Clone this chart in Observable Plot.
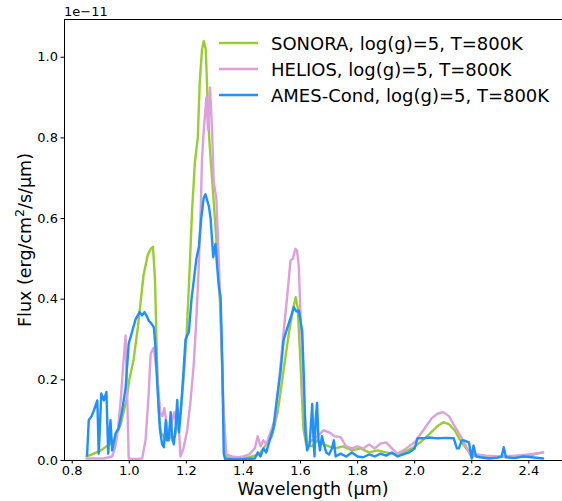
<!DOCTYPE html>
<html>
<head>
<meta charset="utf-8">
<script src="https://cdn.jsdelivr.net/npm/d3@7"></script>
<script src="https://cdn.jsdelivr.net/npm/@observablehq/plot@0.6"></script>
<style>
html,body{margin:0;padding:0;background:#fff;overflow:hidden;}
</style>
</head>
<body>
<div id="chart"></div>
<script>
const seriesNames = ["SONORA, log(g)=5, T=800K", "HELIOS, log(g)=5, T=800K", "AMES-Cond, log(g)=5, T=800K"];
const seriesColors = ["#9acd32", "#dda0dd", "#1e90ff"];
const xTicks = [0.8, 1.0, 1.2, 1.4, 1.6, 1.8, 2.0, 2.2, 2.4];
const yTicks = [0.0, 0.2, 0.4, 0.6, 0.8, 1.0];
const yExponent = "1e\u221211";

// [wavelength (µm), flux (1e-11 erg/cm²/s/µm)]
const sonora = [
[0.85,0.01],[0.87,0.015],[0.90,0.025],[0.93,0.04],[0.95,0.055],[0.97,0.09],[0.99,0.15],[1.00,0.2],[1.015,0.25],[1.03,0.33],
[1.05,0.46],[1.065,0.51],[1.075,0.525],[1.083,0.53],[1.09,0.45],[1.097,0.25],[1.103,0.13],[1.11,0.07],[1.12,0.06],[1.13,0.05],
[1.14,0.07],[1.15,0.05],[1.16,0.06],[1.17,0.09],[1.18,0.12],[1.19,0.2],[1.20,0.3],[1.21,0.45],[1.22,0.62],[1.23,0.74],
[1.24,0.8],[1.247,0.94],[1.255,1.02],[1.261,1.04],[1.268,1.02],[1.274,0.9],[1.28,0.8],[1.29,0.7],[1.30,0.6],[1.31,0.5],
[1.32,0.36],[1.328,0.16],[1.335,0.02],[1.34,0.008],[1.36,0.006],[1.38,0.005],[1.40,0.006],[1.42,0.008],[1.44,0.012],[1.46,0.02],
[1.48,0.04],[1.50,0.06],[1.52,0.12],[1.54,0.22],[1.56,0.32],[1.575,0.38],[1.583,0.405],[1.59,0.38],[1.60,0.24],[1.61,0.08],
[1.62,0.04],[1.64,0.035],[1.66,0.05],[1.68,0.04],[1.70,0.035],[1.72,0.03],[1.75,0.035],[1.78,0.025],[1.81,0.03],[1.84,0.02],
[1.87,0.025],[1.90,0.02],[1.93,0.015],[1.96,0.02],[1.99,0.03],[2.02,0.045],[2.05,0.065],[2.08,0.085],[2.10,0.095],[2.12,0.09],
[2.14,0.075],[2.16,0.05],[2.18,0.03],[2.20,0.015],[2.22,0.01],[2.25,0.008],[2.30,0.008],[2.35,0.01],[2.40,0.012],[2.45,0.02]
];
const helios = [
[0.85,0.005],[0.88,0.005],[0.91,0.005],[0.94,0.01],[0.95,0.03],[0.96,0.075],[0.97,0.15],[0.978,0.23],[0.987,0.31],[0.993,0.15],
[0.998,0.005],[1.01,0.004],[1.03,0.004],[1.045,0.005],[1.057,0.05],[1.068,0.166],[1.075,0.265],[1.086,0.28],[1.098,0.206],[1.109,0.116],
[1.116,0.11],[1.123,0.13],[1.133,0.08],[1.14,0.06],[1.15,0.1],[1.158,0.12],[1.165,0.09],[1.172,0.11],[1.179,0.01],[1.19,0.03],
[1.203,0.075],[1.215,0.15],[1.226,0.24],[1.235,0.35],[1.244,0.49],[1.25,0.62],[1.255,0.75],[1.261,0.82],[1.27,0.9],[1.276,0.82],
[1.283,0.925],[1.29,0.82],[1.296,0.69],[1.305,0.65],[1.314,0.49],[1.322,0.32],[1.331,0.116],[1.34,0.015],[1.36,0.01],[1.38,0.008],
[1.40,0.01],[1.42,0.015],[1.44,0.03],[1.45,0.06],[1.46,0.035],[1.47,0.05],[1.48,0.04],[1.49,0.06],[1.50,0.08],[1.512,0.107],
[1.525,0.2],[1.541,0.32],[1.553,0.405],[1.565,0.496],[1.573,0.5],[1.582,0.525],[1.588,0.52],[1.594,0.48],[1.60,0.364],[1.611,0.157],
[1.623,0.042],[1.64,0.05],[1.66,0.06],[1.68,0.075],[1.70,0.07],[1.72,0.06],[1.74,0.058],[1.76,0.035],[1.78,0.03],[1.80,0.035],
[1.82,0.03],[1.84,0.04],[1.86,0.03],[1.88,0.042],[1.90,0.045],[1.92,0.03],[1.94,0.017],[1.96,0.025],[1.98,0.035],[2.00,0.045],
[2.03,0.075],[2.06,0.105],[2.08,0.116],[2.10,0.12],[2.12,0.11],[2.14,0.085],[2.17,0.05],[2.19,0.02],[2.20,0.008],[2.22,0.015],
[2.25,0.012],[2.30,0.01],[2.35,0.012],[2.40,0.015],[2.45,0.02]
];
const ames = [
[0.852,0.012],[0.858,0.1],[0.868,0.11],[0.876,0.124],[0.888,0.149],[0.893,0.017],[0.902,0.166],[0.911,0.149],[0.92,0.17],[0.926,0.017],
[0.934,0.1],[0.94,0.025],[0.952,0.067],[0.963,0.08],[0.975,0.124],[0.987,0.18],[0.998,0.29],[1.01,0.32],[1.022,0.35],[1.036,0.368],
[1.045,0.36],[1.053,0.368],[1.06,0.36],[1.068,0.347],[1.077,0.34],[1.086,0.33],[1.092,0.28],[1.098,0.19],[1.107,0.08],[1.115,0.04],
[1.121,0.033],[1.128,0.1],[1.133,0.05],[1.138,0.05],[1.145,0.12],[1.15,0.06],[1.156,0.04],[1.162,0.08],[1.168,0.15],[1.174,0.07],
[1.18,0.116],[1.188,0.2],[1.197,0.3],[1.209,0.32],[1.218,0.4],[1.226,0.446],[1.235,0.5],[1.244,0.53],[1.252,0.6],[1.261,0.652],
[1.267,0.66],[1.273,0.645],[1.279,0.63],[1.285,0.6],[1.294,0.504],[1.302,0.537],[1.308,0.48],[1.314,0.43],[1.32,0.405],[1.326,0.24],
[1.331,0.017],[1.336,0.003],[1.36,0.003],[1.40,0.003],[1.44,0.005],[1.45,0.02],[1.46,0.01],[1.47,0.03],[1.48,0.02],[1.495,0.058],
[1.505,0.08],[1.518,0.157],[1.53,0.22],[1.541,0.3],[1.55,0.32],[1.559,0.34],[1.568,0.36],[1.576,0.38],[1.585,0.37],[1.594,0.372],
[1.606,0.32],[1.612,0.2],[1.617,0.074],[1.623,0.025],[1.632,0.04],[1.641,0.14],[1.645,0.06],[1.649,0.01],[1.653,0.1],[1.658,0.143],
[1.663,0.05],[1.668,0.025],[1.675,0.06],[1.682,0.04],[1.69,0.02],[1.70,0.015],[1.71,0.03],[1.717,0.05],[1.723,0.01],[1.74,0.017],
[1.76,0.01],[1.78,0.02],[1.80,0.01],[1.82,0.008],[1.84,0.015],[1.86,0.01],[1.88,0.017],[1.90,0.012],[1.92,0.02],[1.94,0.01],
[1.96,0.015],[1.98,0.02],[2.00,0.03],[2.01,0.055],[2.03,0.055],[2.05,0.057],[2.08,0.055],[2.11,0.056],[2.137,0.055],[2.148,0.03],
[2.155,0.03],[2.165,0.05],[2.172,0.05],[2.19,0.045],[2.2,0.005],[2.206,0.037],[2.215,0.01],[2.23,0.008],[2.26,0.005],[2.29,0.007],
[2.305,0.01],[2.312,0.033],[2.32,0.008],[2.35,0.006],[2.38,0.01],[2.41,0.008],[2.45,0.005]
];

const series = [sonora, helios, ames];
const xDomain = [0.773, 2.518];
const yDomain = [0, 1.0936];
const font = "'DejaVu Sans', sans-serif";

const plot = Plot.plot({
  width: 562,
  height: 501,
  marginLeft: 64,
  marginRight: 0,
  marginTop: 19,
  marginBottom: 41,
  style: {fontFamily: font, fontSize: "13px", color: "#000", background: "#fff"},
  x: {domain: xDomain, ticks: xTicks, tickFormat: d3.format(".1f"), tickSize: 3.5, tickPadding: 2, label: null},
  y: {domain: yDomain, ticks: yTicks, tickFormat: d3.format(".1f"), tickSize: 3.5, tickPadding: 3, label: null},
  marks: [
    ...series.map((s, i) => Plot.line(s, {x: d => d[0], y: d => d[1], stroke: seriesColors[i], strokeWidth: 2.4, strokeLinejoin: "round"})),
    Plot.ruleX([xDomain[0]], {stroke: "#000", strokeWidth: 1}),
    Plot.ruleY([yDomain[0]], {stroke: "#000", strokeWidth: 1}),
    Plot.ruleY([yDomain[1]], {stroke: "#000", strokeWidth: 1})
  ]
});

const svg = d3.select(plot);
// exponent
svg.append("text").attr("x", 64).attr("y", 16).attr("text-anchor", "start").attr("font-family", font).attr("font-size", 13).attr("fill", "#000").text(yExponent);
// x label
svg.append("text").attr("x", 313).attr("y", 495).attr("text-anchor", "middle").attr("font-family", font).attr("font-size", 17.5).attr("fill", "#000").text("Wavelength (µm)");
// y label
const yl = svg.append("text").attr("transform", "translate(31,240) rotate(-90)").attr("text-anchor", "middle").attr("font-family", font).attr("font-size", 17.5).attr("fill", "#000");
yl.append("tspan").text("Flux (erg/cm");
yl.append("tspan").attr("dy", -7).attr("font-size", 12.5).text("2");
yl.append("tspan").attr("dy", 7).text("/s/µm)");
// legend
seriesNames.forEach((name, i) => {
  const y = 43 + i * 26;
  svg.append("line").attr("x1", 219).attr("x2", 258).attr("y1", y).attr("y2", y).attr("stroke", seriesColors[i]).attr("stroke-width", 2.4);
  svg.append("text").attr("x", 271).attr("y", y + 6.5).attr("text-anchor", "start").attr("font-family", font).attr("font-size", 18).attr("fill", "#000").text(name);
});

document.getElementById("chart").appendChild(plot);
</script>
</body>
</html>
